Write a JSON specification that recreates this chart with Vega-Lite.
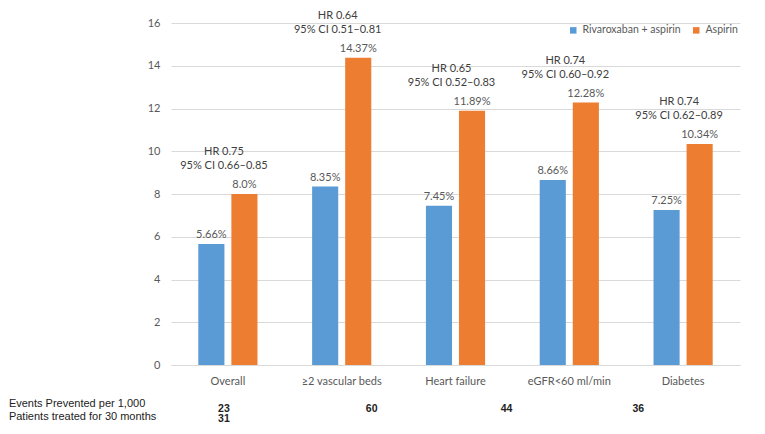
{
  "$schema": "https://vega.github.io/schema/vega-lite/v6.json",
  "autosize": "none",
  "width": 569,
  "height": 342,
  "padding": {"left": 171, "top": 23, "right": 25, "bottom": 69},
  "background": "white",
  "config": {
    "view": {"stroke": null},
    "font": "Lato",
    "text": {"font": "Lato"}
  },
  "datasets": {
    "bars": [
      {"category": "Overall", "group": "Rivaroxaban + aspirin", "value": 5.66, "label": "5.66%"},
      {"category": "Overall", "group": "Aspirin", "value": 8.0, "label": "8.0%"},
      {"category": "≥2 vascular beds", "group": "Rivaroxaban + aspirin", "value": 8.35, "label": "8.35%"},
      {"category": "≥2 vascular beds", "group": "Aspirin", "value": 14.37, "label": "14.37%"},
      {"category": "Heart failure", "group": "Rivaroxaban + aspirin", "value": 7.45, "label": "7.45%"},
      {"category": "Heart failure", "group": "Aspirin", "value": 11.89, "label": "11.89%"},
      {"category": "eGFR<60 ml/min", "group": "Rivaroxaban + aspirin", "value": 8.66, "label": "8.66%"},
      {"category": "eGFR<60 ml/min", "group": "Aspirin", "value": 12.28, "label": "12.28%"},
      {"category": "Diabetes", "group": "Rivaroxaban + aspirin", "value": 7.25, "label": "7.25%"},
      {"category": "Diabetes", "group": "Aspirin", "value": 10.34, "label": "10.34%"}
    ],
    "hr": [
      {"category": "Overall", "aspirin": 8.0, "hr": "HR 0.75\n95% CI 0.66–0.85"},
      {"category": "≥2 vascular beds", "aspirin": 14.37, "hr": "HR 0.64\n95% CI 0.51–0.81"},
      {"category": "Heart failure", "aspirin": 11.89, "hr": "HR 0.65\n95% CI 0.52–0.83"},
      {"category": "eGFR<60 ml/min", "aspirin": 12.28, "hr": "HR 0.74\n95% CI 0.60–0.92"},
      {"category": "Diabetes", "aspirin": 10.34, "hr": "HR 0.74\n95% CI 0.62–0.89"}
    ],
    "events": [
      {"category": "Overall", "text": "23\n31"},
      {"category": "≥2 vascular beds", "text": "60"},
      {"category": "Heart failure", "text": "44"},
      {"category": "eGFR<60 ml/min", "text": "36"}
    ],
    "rowlabel": [
      {"category": "Overall", "text": "Events Prevented per 1,000\nPatients treated for 30 months"}
    ]
  },
  "encoding": {
    "x": {
      "field": "category",
      "type": "nominal",
      "sort": ["Overall", "≥2 vascular beds", "Heart failure", "eGFR<60 ml/min", "Diabetes"],
      "scale": {"domain": ["Overall", "≥2 vascular beds", "Heart failure", "eGFR<60 ml/min", "Diabetes"], "paddingInner": 0.48, "paddingOuter": 0.24},
      "axis": {
        "title": null,
        "labelAngle": 0,
        "ticks": false,
        "domainColor": "#d9d9d9",
        "labelColor": "#595959",
        "labelFontSize": 11,
        "labelPadding": 10,
        "labelFont": "Lato"
      }
    }
  },
  "layer": [
    {
      "data": {"name": "bars"},
      "mark": {"type": "bar"},
      "encoding": {
        "xOffset": {"field": "group", "type": "nominal", "scale": {"domain": ["Rivaroxaban + aspirin", "Aspirin"], "paddingInner": 0.21}},
        "y": {
          "field": "value",
          "type": "quantitative",
          "scale": {"domain": [0, 16], "nice": false},
          "axis": {
            "title": null,
            "values": [0, 2, 4, 6, 8, 10, 12, 14, 16],
            "domain": false,
            "ticks": false,
            "gridColor": "#d9d9d9",
            "labelColor": "#595959",
            "labelFontSize": 11,
            "labelPadding": 11,
            "labelFont": "Lato"
          }
        },
        "color": {
          "field": "group",
          "type": "nominal",
          "scale": {"domain": ["Rivaroxaban + aspirin", "Aspirin"], "range": ["#5b9bd5", "#ed7d31"]},
          "legend": {
            "title": null,
            "orient": "top-right",
            "direction": "horizontal",
            "offset": 0,
            "symbolType": "square",
            "symbolSize": 42,
            "symbolStrokeWidth": 0,
            "labelFontSize": 10.5,
            "labelOffset": 4,
            "labelColor": "#595959",
            "labelFont": "Lato",
            "columnPadding": 10,
            "padding": 2
          }
        }
      }
    },
    {
      "data": {"name": "bars"},
      "mark": {"type": "text", "baseline": "bottom", "dy": -4, "fontSize": 11, "color": "#595959"},
      "encoding": {
        "xOffset": {"field": "group", "type": "nominal", "scale": {"domain": ["Rivaroxaban + aspirin", "Aspirin"], "paddingInner": 0.21}},
        "y": {"field": "value", "type": "quantitative"},
        "text": {"field": "label"}
      }
    },
    {
      "data": {"name": "hr"},
      "mark": {"type": "text", "baseline": "middle", "dy": -42, "dx": -4, "fontSize": 11, "color": "#404040", "lineBreak": "\n", "lineHeight": 14},
      "encoding": {
        "y": {"field": "aspirin", "type": "quantitative"},
        "text": {"field": "hr"}
      }
    },
    {
      "data": {"name": "events"},
      "transform": [{"filter": "datum.category === 'Overall'"}],
      "mark": {"type": "text", "baseline": "middle", "dy": 43.5, "dx": -4, "fontSize": 10.5, "fontWeight": "bold", "font": "Liberation Sans", "color": "#222222", "lineBreak": "\n", "lineHeight": 10.5},
      "encoding": {"y": {"datum": 0}, "text": {"field": "text"}}
    },
    {
      "data": {"name": "events"},
      "transform": [{"filter": "datum.category === '≥2 vascular beds'"}],
      "mark": {"type": "text", "baseline": "middle", "dy": 43.5, "dx": 30, "fontSize": 10.5, "fontWeight": "bold", "font": "Liberation Sans", "color": "#222222"},
      "encoding": {"y": {"datum": 0}, "text": {"field": "text"}}
    },
    {
      "data": {"name": "events"},
      "transform": [{"filter": "datum.category === 'Heart failure'"}],
      "mark": {"type": "text", "baseline": "middle", "dy": 43.5, "dx": 51, "fontSize": 10.5, "fontWeight": "bold", "font": "Liberation Sans", "color": "#222222"},
      "encoding": {"y": {"datum": 0}, "text": {"field": "text"}}
    },
    {
      "data": {"name": "events"},
      "transform": [{"filter": "datum.category === 'eGFR<60 ml/min'"}],
      "mark": {"type": "text", "baseline": "middle", "dy": 43.5, "dx": 69, "fontSize": 10.5, "fontWeight": "bold", "font": "Liberation Sans", "color": "#222222"},
      "encoding": {"y": {"datum": 0}, "text": {"field": "text"}}
    },
    {
      "data": {"name": "rowlabel"},
      "mark": {"type": "text", "align": "left", "baseline": "middle", "dy": 39, "dx": -219, "fontSize": 11, "font": "Liberation Sans", "color": "#222222", "lineBreak": "\n", "lineHeight": 12.5},
      "encoding": {"y": {"datum": 0}, "text": {"field": "text"}}
    }
  ]
}
